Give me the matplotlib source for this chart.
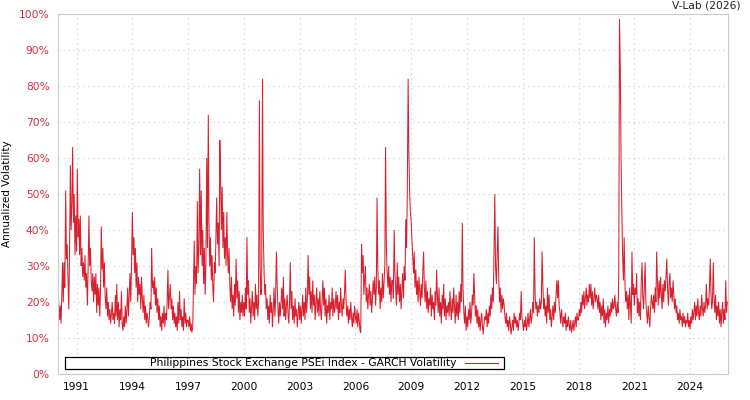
import numpy as np
import pandas as pd
import matplotlib
matplotlib.use("Agg")
import matplotlib.pyplot as plt
import matplotlib.dates as mdates
from matplotlib.ticker import PercentFormatter, FixedLocator
from matplotlib.patches import Rectangle
from matplotlib.lines import Line2D

# Semi-monthly GARCH volatility readings (%), 24 per year, starting 1990-01-01
v1990 = [17, 20, 15, 19, 14, 21, 31, 20, 31, 24, 51, 32, 36, 27, 18, 33, 58, 40, 47, 63, 42, 50, 33, 44]
v1991 = [34, 57, 38, 43, 33, 44, 30, 35, 27, 31, 26, 33, 24, 28, 19, 29, 44, 30, 35, 26, 23, 28, 20, 27]
v1992 = [22, 28, 17, 25, 19, 24, 16, 23, 41, 29, 35, 24, 31, 22, 18, 24, 16, 20, 15, 18, 14, 17, 20, 15]
v1993 = [17, 14, 22, 16, 25, 15, 20, 13, 18, 15, 23, 14, 12, 16, 13, 19, 14, 18, 24, 16, 22, 28, 20, 30]
v1994 = [45, 33, 38, 28, 35, 24, 31, 20, 27, 22, 25, 18, 27, 21, 17, 22, 15, 19, 14, 17, 15, 13, 16, 20]
v1995 = [18, 35, 24, 26, 22, 27, 19, 24, 17, 21, 15, 19, 13, 16, 12, 17, 14, 19, 13, 17, 15, 20, 29, 18]
v1996 = [22, 25, 18, 21, 15, 19, 14, 17, 13, 16, 12, 20, 14, 23, 15, 18, 13, 16, 12, 21, 14, 17, 13, 15]
v1997 = [15, 13, 16, 12, 14, 11.5, 13, 25, 37, 22, 30, 25, 48, 28, 36, 57, 33, 51, 30, 40, 25, 35, 22, 30]
v1998 = [60, 35, 72, 40, 30, 38, 26, 33, 24, 20, 31, 28, 38, 49, 36, 42, 30, 65, 54, 40, 52, 35, 45, 32]
v1999 = [38, 30, 45, 33, 28, 35, 24, 20, 27, 18, 22, 16, 25, 19, 32, 21, 26, 17, 23, 15, 20, 17, 22, 16]
v2000 = [20, 16, 24, 18, 38, 22, 26, 17, 21, 14, 19, 23, 16, 20, 15, 25, 18, 22, 16, 20, 76, 30, 22, 25]
v2001 = [82, 40, 28, 22, 25, 18, 21, 15, 19, 14, 22, 17, 20, 13, 18, 24, 16, 21, 34, 25, 18, 14, 20, 16]
v2002 = [20, 24, 18, 27, 16, 21, 15, 19, 22, 17, 14, 20, 31, 18, 23, 15, 19, 14, 21, 16, 18, 13, 17, 20]
v2003 = [15, 19, 14, 18, 22, 16, 20, 15, 24, 17, 21, 33, 22, 27, 18, 23, 17, 26, 19, 22, 15, 20, 24, 17]
v2004 = [21, 16, 23, 18, 15, 20, 26, 19, 24, 16, 21, 14, 19, 17, 22, 15, 20, 18, 24, 16, 21, 17, 19, 23]
v2005 = [18, 22, 15, 20, 17, 24, 19, 16, 21, 18, 23, 29, 20, 16, 19, 14, 18, 15, 20, 16, 13, 17, 14, 19]
v2006 = [16, 14, 18, 13, 17, 15, 12, 11.5, 36, 28, 33, 22, 26, 30, 20, 24, 18, 22, 25, 19, 23, 17, 21, 26]
v2007 = [22, 27, 19, 24, 49, 30, 22, 26, 18, 24, 20, 28, 21, 25, 30, 63, 35, 28, 24, 30, 22, 27, 20, 26]
v2008 = [26, 21, 40, 28, 24, 19, 31, 22, 27, 20, 25, 18, 23, 28, 21, 30, 26, 43, 35, 50, 82, 62, 50, 45]
v2009 = [42, 37, 32, 28, 34, 24, 29, 22, 26, 20, 27, 23, 19, 25, 21, 28, 34, 24, 20, 26, 18, 23, 17, 21]
v2010 = [19, 24, 16, 22, 18, 20, 15, 23, 19, 29, 21, 17, 24, 16, 20, 14, 22, 18, 25, 16, 21, 15, 19, 17]
v2011 = [20, 16, 23, 18, 15, 21, 17, 24, 19, 14, 22, 16, 20, 15, 23, 17, 25, 20, 42, 24, 17, 14, 19, 12]
v2012 = [16, 13, 18, 15, 20, 14, 17, 22, 19, 28, 21, 16, 19, 14, 18, 13, 16, 12, 15, 17, 13, 11, 14, 16]
v2013 = [15, 18, 13, 17, 14, 19, 16, 22, 18, 24, 20, 35, 50, 30, 25, 33, 41, 27, 20, 24, 17, 22, 18, 21]
v2014 = [19, 16, 14, 17, 13, 15, 12, 16, 14, 11, 13, 15, 12, 17, 14, 16, 13, 15, 12, 14, 17, 15, 23, 16]
v2015 = [14, 12, 15, 13, 16, 12, 14, 17, 13, 15, 18, 14, 16, 20, 17, 38, 22, 18, 20, 16, 19, 17, 21, 18]
v2016 = [20, 34, 24, 18, 21, 16, 19, 14, 24, 17, 22, 15, 18, 13, 16, 19, 15, 20, 17, 22, 26, 21, 26, 19]
v2017 = [17, 14, 18, 15, 13, 16, 14, 17, 12, 15, 13, 16, 14, 12, 15, 11.5, 13, 15, 12, 14, 16, 13, 17, 15]
v2018 = [15, 18, 16, 20, 17, 22, 19, 23, 18, 21, 24, 19, 22, 20, 25, 21, 25, 19, 23, 18, 21, 24, 20, 22]
v2019 = [21, 18, 22, 17, 20, 15, 19, 16, 21, 14, 18, 13, 17, 15, 19, 14, 18, 16, 20, 17, 21, 18, 19, 22]
v2020 = [18, 16, 20, 17, 28, 98.6, 84, 60, 45, 33, 26, 38, 25, 20, 23, 18, 22, 15, 24, 19, 14, 34, 22, 25]
v2021 = [19, 24, 22, 28, 17, 21, 16, 20, 15, 25, 31, 22, 18, 24, 31, 20, 17, 14, 19, 16, 13, 18, 22, 20]
v2022 = [18, 22, 17, 24, 20, 34, 25, 19, 26, 21, 27, 22, 18, 25, 20, 26, 23, 27, 32, 24, 19, 25, 28, 21]
v2023 = [24, 20, 26, 22, 18, 21, 17, 19, 15, 17, 14, 18, 15, 16, 13, 17, 14, 16, 13, 15, 14, 17, 13, 15]
v2024 = [12.5, 16, 14, 18, 15, 17, 20, 15, 19, 16, 21, 17, 15, 19, 16, 22, 18, 16, 20, 17, 19, 25, 18, 21]
v2025 = [19, 24, 32, 22, 18, 20, 31, 21, 17, 22, 15, 19, 16, 20, 14, 18, 13, 17, 20, 14, 18, 15, 26, 17]
v2026 = [20]

series_label = "Philippines Stock Exchange PSEi Index - GARCH Volatility"
y_label = "Annualized Volatility"
title_text = "V-Lab (2026)"
tick_years = list(range(1991, 2025, 3))

values = np.concatenate([v1990, v1991, v1992, v1993, v1994, v1995, v1996, v1997, v1998, v1999,
                         v2000, v2001, v2002, v2003, v2004, v2005, v2006, v2007, v2008, v2009,
                         v2010, v2011, v2012, v2013, v2014, v2015, v2016, v2017, v2018, v2019,
                         v2020, v2021, v2022, v2023, v2024, v2025, v2026])
dates = pd.date_range("1990-01-01", periods=len(values), freq="SMS")

red = "#d9202e"
tick_red = "#d62f3f"

fig = plt.figure(figsize=(7.5, 4.0), dpi=100)
ax = fig.add_axes([58/750, 26/400, 670/750, 360/400])

ax.plot(dates, values, color=red, lw=0.75, solid_joinstyle="miter")

ax.set_xlim(dates[0], dates[-1] + pd.Timedelta(days=14))
ax.set_ylim(0, 100)
ax.yaxis.set_major_locator(FixedLocator(list(range(0, 101, 10))))
ax.yaxis.set_major_formatter(PercentFormatter(xmax=100, decimals=0))
ax.xaxis.set_major_locator(FixedLocator([mdates.date2num(pd.Timestamp(f"{y}-01-01")) for y in tick_years]))
ax.xaxis.set_major_formatter(mdates.DateFormatter("%Y"))

ax.tick_params(axis="both", length=0, labelsize=7.7)
ax.tick_params(axis="y", colors=tick_red, pad=6)
ax.tick_params(axis="x", colors="black", pad=6)
for sp in ax.spines.values():
    sp.set_color("#cccccc")
    sp.set_linewidth(0.8)

ax.grid(True, color="#c8c8c8", linestyle=(0, (1, 3.5)), linewidth=0.8)
ax.set_axisbelow(True)

ax.set_ylabel(y_label, fontsize=7.5, color="black", labelpad=5)

# legend box
ax.add_patch(Rectangle((7/670, 5/360), 439/670, 12/360, transform=ax.transAxes,
                       facecolor="white", edgecolor="black", lw=0.9, zorder=5))
ax.text(399/670, 11/360, series_label, transform=ax.transAxes, ha="right", va="center",
        fontsize=7.75, color="black", zorder=6)
ax.add_line(Line2D([407/670, 440/670], [11/360, 11/360], transform=ax.transAxes,
                   color=red, lw=0.8, zorder=6))

fig.text(740/750, 1 - 5/400, title_text, ha="right", va="center", fontsize=7.7, color="#222222")

fig.savefig("out.png", dpi=100)
